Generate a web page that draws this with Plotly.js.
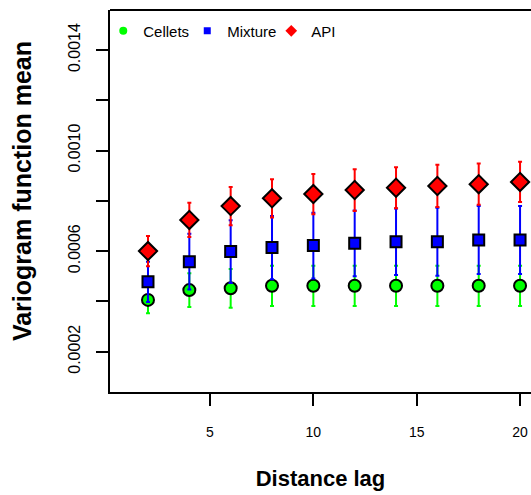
<!DOCTYPE html>
<html>
<head>
<meta charset="utf-8">
<script src="https://cdn.plot.ly/plotly-3.0.1.min.js"></script>
<style>html,body{margin:0;padding:0;background:#fff;overflow:hidden}</style>
</head>
<body>
<div id="chart" style="width:531px;height:495px"></div>
<script>
const lags = [2, 4, 6, 8, 10, 12, 14, 16, 18, 20];
const cellets = [0.000406, 0.000445, 0.000452, 0.000462, 0.000462, 0.000462, 0.000462, 0.000462, 0.000462, 0.000462];
const celletsErr = [0.000053, 0.000067, 0.000077, 0.00008, 0.00008, 0.00008, 0.00008, 0.00008, 0.00008, 0.00008];
const mixture = [0.000478, 0.000558, 0.000598, 0.000614, 0.000622, 0.000631, 0.000637, 0.000637, 0.000644, 0.000644];
const mixtureErr = [0.00008, 0.000111, 0.000125, 0.000126, 0.000131, 0.000131, 0.000132, 0.000135, 0.000135, 0.000135];
const api = [0.000600, 0.000724, 0.000779, 0.00081, 0.000827, 0.000843, 0.000852, 0.000859, 0.000866, 0.000875];
const apiErr = [0.00006, 0.000068, 0.000076, 0.000076, 0.00008, 0.000083, 0.000082, 0.000084, 0.000082, 0.00008];
const seriesNames = ['Cellets', 'Mixture', 'API'];
const xTickVals = [5, 10, 15, 20];
const yTickVals = [0.0002, 0.0004, 0.0006, 0.0008, 0.0010, 0.0012, 0.0014];
const yTickText = ['0.0002', '', '0.0006', '', '0.0010', '', '0.0014'];

const FONT = '"Liberation Sans", Arial, sans-serif';
const colors = ['#00ff00', '#0000ff', '#ff0000'];
const symbols = ['circle', 'square', 'diamond'];
const sizes = [12, 11, 14];
const values = [cellets, mixture, api];
const errs = [celletsErr, mixtureErr, apiErr];

const traces = [];
for (let i = 0; i < 3; i++) {
  traces.push({
    type: 'scatter', mode: 'markers', x: lags, y: values[i], showlegend: false,
    name: seriesNames[i],
    marker: {symbol: symbols[i], color: colors[i], size: sizes[i], line: {color: '#000', width: 2}},
    error_y: {type: 'data', array: errs[i], visible: true, color: colors[i], thickness: 2, width: 2}
  });
}
const legendSizes = [8, 7, 9];
for (let i = 0; i < 3; i++) {
  traces.push({
    type: 'scatter', mode: 'markers', x: [null], y: [null], name: seriesNames[i], showlegend: true,
    marker: {symbol: symbols[i], color: colors[i], size: legendSizes[i], line: {width: 0}}
  });
}

const layout = {
  width: 531, height: 495,
  margin: {l: 110, r: 0, t: 10, b: 103},
  paper_bgcolor: '#fff', plot_bgcolor: '#fff',
  font: {family: FONT, color: '#000'},
  showlegend: true,
  legend: {orientation: 'h', x: -0.016, xanchor: 'left', y: 0.988, yanchor: 'top',
           entrywidth: 39, entrywidthmode: 'pixels',
           font: {size: 15, family: FONT, color: '#000'}, bgcolor: 'rgba(0,0,0,0)', itemclick: false},
  xaxis: {
    range: [0.162, 20.53], tickvals: xTickVals, ticktext: xTickVals.map(String),
    ticks: 'outside', ticklen: 12, tickwidth: 2, tickcolor: '#000',
    showline: true, linecolor: '#000', linewidth: 2, showgrid: false, zeroline: false,
    tickfont: {size: 14, family: FONT}, ticklabelstandoff: 14,
    title: {text: '<b>Distance lag</b>', font: {size: 22, family: FONT}, standoff: 32}
  },
  yaxis: {
    range: [0.0000396, 0.001559], tickvals: yTickVals, ticktext: yTickText,
    ticks: 'outside', ticklen: 12, tickwidth: 2, tickcolor: '#000', tickangle: -90,
    showline: true, linecolor: '#000', linewidth: 2, showgrid: false, zeroline: false,
    tickfont: {size: 16, family: FONT}, ticklabelstandoff: 10
  },
  annotations: [{
    text: '<b>Variogram function mean</b>', xref: 'paper', yref: 'paper',
    x: -0.209, y: 0.526, xanchor: 'center', yanchor: 'middle', textangle: -90,
    showarrow: false, font: {size: 25, family: FONT, color: '#000'}
  }],
  shapes: [{type: 'line', xref: 'paper', yref: 'paper', x0: 0, x1: 1, y0: 1, y1: 1, line: {color: '#000', width: 2}}]
};
Plotly.newPlot('chart', traces, layout, {displayModeBar: false, staticPlot: true});
</script>
</body>
</html>
